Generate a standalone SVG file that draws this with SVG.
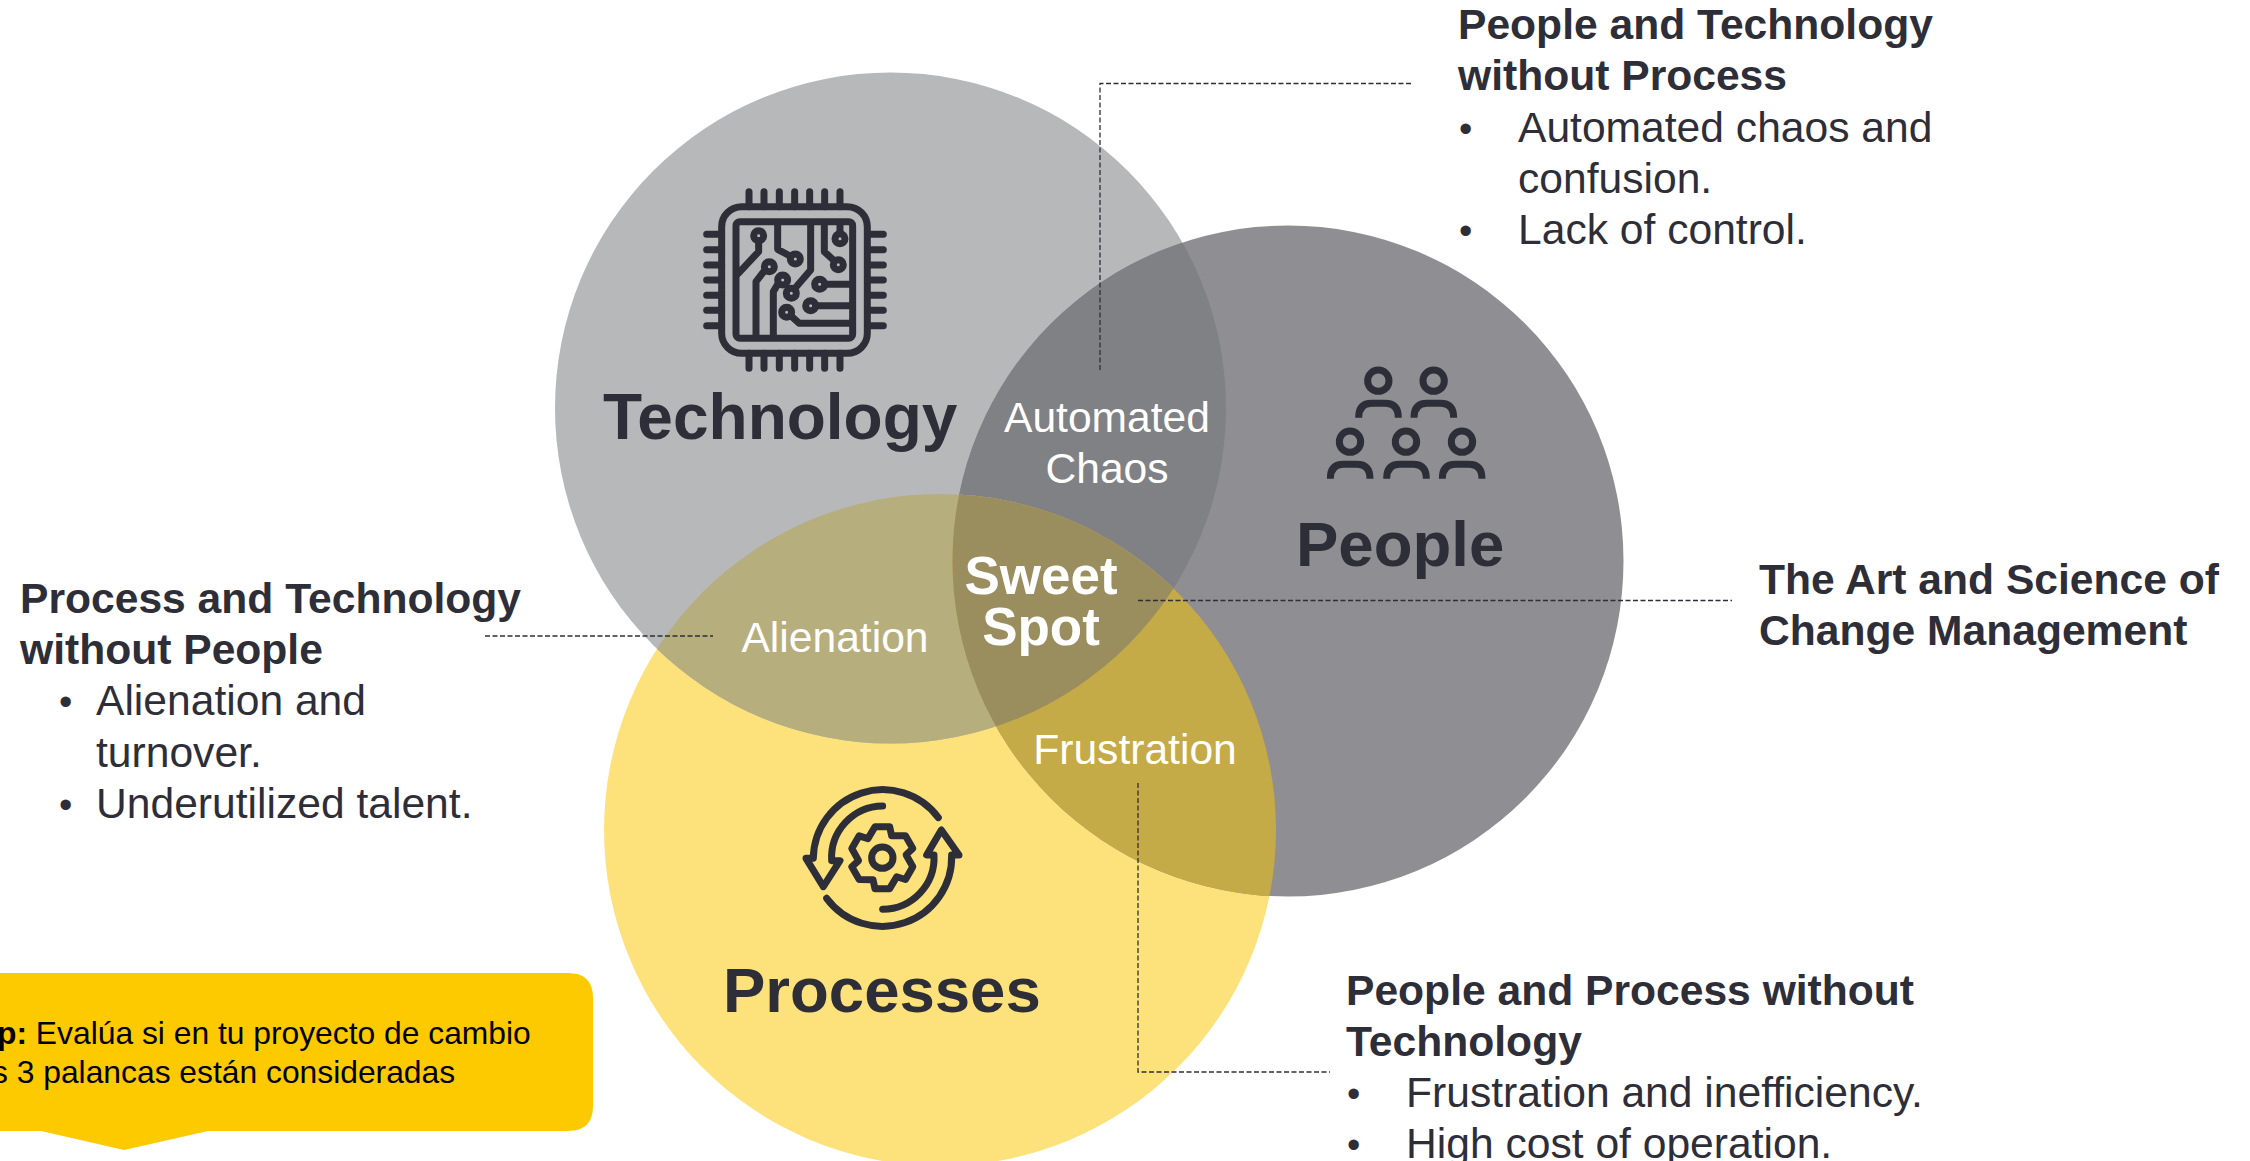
<svg xmlns="http://www.w3.org/2000/svg" width="2250" height="1161" viewBox="0 0 2250 1161">
<style>
text{font-family:"Liberation Sans",Arial,sans-serif;fill:#2e2e38}
.t{font-size:63.5px;font-weight:700}
.h{font-size:42.6px;font-weight:700}
.b{font-size:42.6px}
.u{font-size:38px}
.w{font-size:42.6px;fill:#fff;text-anchor:middle}
.s{font-size:53px;font-weight:700;fill:#fff;text-anchor:middle}
.c{font-size:31.8px;fill:#000}
.i{fill:none;stroke:#2e2e38;stroke-width:21;stroke-linecap:round;stroke-linejoin:round}
.d{fill:none;stroke:#2e2e38;stroke-width:1.3;stroke-dasharray:5 2.5}
</style>
<defs>
<clipPath id="ct"><circle cx="890.500" cy="408" r="335.500"/></clipPath>
<clipPath id="cy"><circle cx="940" cy="830" r="336"/></clipPath>
</defs>
<rect width="2250" height="1161" fill="#fff"/>
<g id="venn">
<circle id="circle-processes" cx="940" cy="830" r="336" fill="#fde27c"/>
<circle id="circle-technology" cx="890.500" cy="408" r="335.500" fill="#b7b8ba"/>
<circle id="circle-people" cx="1288" cy="561" r="335.500" fill="#8f8e93"/>
<g clip-path="url(#ct)"><circle cx="1288" cy="561" r="335.500" fill="#808185"/></g>
<g clip-path="url(#cy)">
<circle cx="890.500" cy="408" r="335.500" fill="#b7ae7e"/>
<circle cx="1288" cy="561" r="335.500" fill="#c4ab47"/>
<g clip-path="url(#ct)"><circle cx="1288" cy="561" r="335.500" fill="#9a8d5e"/></g>
</g>
</g>
<g id="connectors">
<path class="d" d="M1411 83.500H1100V370"/>
<path class="d" d="M485 636H713"/>
<path class="d" d="M1138 600.500H1732"/>
<path class="d" d="M1138 783V1072H1330"/>
</g>
<g id="node-technology">
<g class="i" transform="translate(680 170) scale(.3333)">
<rect x="125" y="110" width="437" height="440" rx="60"/>
<rect x="168" y="155" width="350" height="350" rx="12"/>
<path d="M207 65V110M252 65V110M298 65V110M344 65V110M389 65V110M434 65V110M480 65V110M207 550V595M252 550V595M298 550V595M344 550V595M389 550V595M434 550V595M480 550V595M80 193H125M80 239H125M80 285H125M80 330H125M80 376H125M80 421H125M80 467H125M565 193H610M565 239H610M565 285H610M565 330H610M565 376H610M565 421H610M565 467H610"/>
<circle cx="236" cy="197" r="15"/><circle cx="346" cy="267" r="15"/><circle cx="268" cy="290" r="15"/><circle cx="308" cy="330" r="15"/><circle cx="334" cy="370" r="15"/><circle cx="475" cy="284" r="15"/><circle cx="480" cy="206" r="15"/><circle cx="419" cy="343" r="15"/><circle cx="392" cy="407" r="15"/><circle cx="320" cy="427" r="15"/>
<path d="M236 212V245L175 310M293 160V238L330 258M255 300L228 335V500M295 340L280 365V500M392 160V300L345 355M433 160V245L460 270M480 160V190M434 343H515M407 407H515M332 437L358 460H515"/>
</g>
<text class="t" x="603" y="439" style="font-size:64px">Technology</text>
</g>
<g id="node-people">
<g transform="translate(1300 350) scale(.3333)" fill="none" stroke="#2e2e38" stroke-width="21">
<circle cx="235" cy="92" r="32"/><circle cx="401" cy="92" r="32"/><circle cx="150" cy="275" r="32"/><circle cx="318" cy="275" r="32"/><circle cx="486" cy="275" r="32"/>
<path d="M176 203Q176 160 215 160H255Q295 160 295 203M342 203Q342 160 381 160H421Q461 160 461 203M91 386Q91 343 130 343H170Q210 343 210 386M260 386Q260 343 299 343H339Q379 343 379 386M427 386Q427 343 466 343H506Q546 343 546 386"/>
</g>
<text class="t" x="1296" y="565.500">People</text>
</g>
<g id="node-processes">
<g class="i" transform="translate(780 770) scale(.3333)">
<circle cx="307" cy="263" r="32"/>
<path transform="translate(307 263)" d="M-22-93H22L28-66L69.500-65.600L91.500-27.400L71.200-8.800L91.500 27.400L69.500 65.600L43.200 57.200L22 93H-22L-28 66L-69.500 65.600L-91.500 27.400L-71.200 8.800L-91.500-27.400L-69.500-65.600L-43.200-57.200Z"/>
<path d="M475 143A208 208 0 0 0 100 265H78L130 350L180 272H155A155 155 0 0 1 308 108"/>
<path d="M140 385A208 208 0 0 0 515 255H537L484 180L440 255H462A155 155 0 0 1 308 418"/>
</g>
<text class="t" x="723" y="1011.500">Processes</text>
</g>
<g id="node-automated-chaos"><text class="w" x="1107" y="432">Automated</text><text class="w" x="1107" y="483">Chaos</text></g>
<g id="node-alienation"><text class="w" x="835" y="652">Alienation</text></g>
<g id="node-frustration"><text class="w" x="1135" y="764">Frustration</text></g>
<g id="node-sweet-spot"><text class="s" x="1041" y="594">Sweet</text><text class="s" x="1041" y="645">Spot</text></g>
<g id="note-people-technology">
<text class="h" x="1458" y="39">People and Technology</text><text class="h" x="1458" y="90">without Process</text>
<text class="u" x="1459" y="142">•</text><text class="b" x="1518" y="142">Automated chaos and</text><text class="b" x="1518" y="193">confusion.</text>
<text class="u" x="1459" y="244">•</text><text class="b" x="1518" y="244">Lack of control.</text>
</g>
<g id="note-process-technology">
<text class="h" x="20" y="613">Process and Technology</text><text class="h" x="20" y="664">without People</text>
<text class="u" x="59" y="715">•</text><text class="b" x="96" y="715">Alienation and</text><text class="b" x="96" y="767">turnover.</text>
<text class="u" x="59" y="818">•</text><text class="b" x="96" y="818">Underutilized talent.</text>
</g>
<g id="note-change">
<text class="h" x="1759" y="594">The Art and Science of</text><text class="h" x="1759" y="645">Change Management</text>
</g>
<g id="note-people-process">
<text class="h" x="1346" y="1005">People and Process without</text><text class="h" x="1346" y="1056">Technology</text>
<text class="u" x="1347" y="1107">•</text><text class="b" x="1406" y="1107">Frustration and inefficiency.</text>
<text class="u" x="1347" y="1158">•</text><text class="b" x="1406" y="1158">High cost of operation.</text>
</g>
<g id="callout">
<path d="M-20 973H568Q593 973 593 998V1106Q593 1131 568 1131H208L124 1150L41 1131H-20Z" fill="#fdca00"/>
<text class="c" x="-3" y="1044"><tspan font-weight="700">p:</tspan> Evalúa si en tu proyecto de cambio</text>
<text class="c" x="-8" y="1083">s 3 palancas están consideradas</text>
</g>
</svg>
